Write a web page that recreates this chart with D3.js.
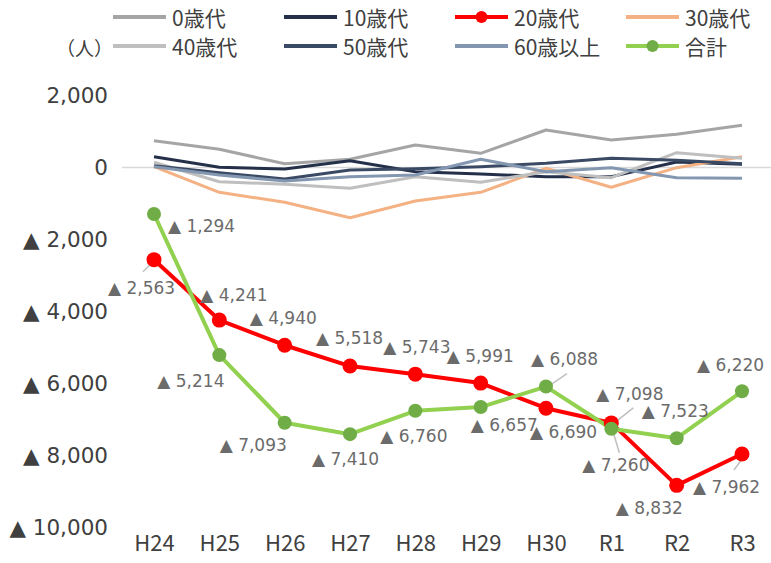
<!DOCTYPE html>
<html><head><meta charset="utf-8">
<script src="https://cdn.jsdelivr.net/npm/d3@7"></script>
<style>body{margin:0;background:#fff}</style>
</head><body><svg id="c" width="771" height="563"></svg>
<script>
// ---- data ----
const categories = ["H24","H25","H26","H27","H28","H29","H30","R1","R2","R3"];
const age0  = [742, 503, 103, 225, 622, 392, 1039, 761, 919, 1169];
const age10 = [297, 3, -44, 186, -119, -183, -257, -257, 150, 90];
const age20 = [-2563, -4241, -4940, -5518, -5743, -5991, -6690, -7098, -8832, -7962];
const age30 = [20, -692, -969, -1397, -933, -692, -25, -553, -8, 297];
const age40 = [142, -397, -470, -581, -258, -414, -119, -285, 409, 253];
const age50 = [48, -146, -322, -72, -36, 19, 114, 253, 200, 100];
const age60 = [20, -211, -378, -258, -211, 225, -119, -8, -285, -303];
const total = [-1294, -5214, -7093, -7410, -6760, -6657, -6088, -7260, -7523, -6220];
const seriesNames = ["0歳代","10歳代","20歳代","30歳代","40歳代","50歳代","60歳以上","合計"];
const yTickValues = [2000, 0, -2000, -4000, -6000, -8000, -10000];
const unitLabel = "（人）";

// ---- styling / layout ----
const colors = {
  "0歳代":"#A5A5A5","10歳代":"#243049","20歳代":"#FF0000","30歳代":"#F4B183",
  "40歳代":"#BFBFBF","50歳代":"#3A4A64","60歳以上":"#8497B0","合計":"#92D050"
};
const markerFill = {"20歳代":"#FF0000","合計":"#70AD47"};
const seriesData = [age0, age10, age20, age30, age40, age50, age60, total];

// label placements (relative to point): [dx, dy]
const lab20 = [[-46,28],[-19,-25],[-35,-27],[-34,-28],[-32,-27],[-34,-27],[-16,24],[-15,-29],[-61,23],[-49,33]];
const labTot = [[14,12],[-62,26],[-65,22],[-38,25],[-35,25],[-10,18],[-15,-28],[-29,36],[-35,-27],[-45,-26]];
// leader lines: [seriesIndex, pointIndex, x1,y1,x2,y2] relative to point
const leaders = [[2,0,-1,2,-11,12],[7,6,2,0,21,-13],[2,7,3,0,22,-15],[7,7,2,4,8,24],[2,9,0,5,-8,16]];

const svg = d3.select("#c");
const x = d3.scalePoint().domain(categories).range([154, 742]);
const y = d3.scaleLinear().domain([-10000, 2000]).range([527.4, 95.4]);

const fmt = v => v < 0 ? "▲ " + d3.format(",")(-v) : d3.format(",")(v);

// zero line
svg.append("line").attr("x1",122).attr("x2",771).attr("y1",y(0)).attr("y2",y(0))
  .attr("stroke","#D9D9D9").attr("stroke-width",1.5);

// y axis (labels only)
const yAxis = d3.axisLeft(y).tickValues(yTickValues).tickFormat(fmt).tickSize(0).tickPadding(0);
const yg = svg.append("g").attr("transform","translate(108,0)").call(yAxis);
yg.select(".domain").remove();
yg.selectAll("text").attr("font-family","DejaVu Sans, Verdana, sans-serif").attr("font-size",21.5).attr("fill","#404040");

// x axis
const xAxis = d3.axisBottom(x).tickSize(0).tickPadding(0);
const xg = svg.append("g").attr("transform","translate(0,535)").call(xAxis);
xg.select(".domain").remove();
xg.selectAll("text").attr("font-family","'Noto Sans CJK JP', sans-serif").attr("font-size",22).attr("fill","#404040");

// lines
const line = d3.line().x((d,i)=>x(categories[i])).y(d=>y(d));
seriesNames.forEach((name, si) => {
  const big = (name === "20歳代" || name === "合計");
  svg.append("path").datum(seriesData[si]).attr("d", line)
    .attr("fill","none").attr("stroke", colors[name])
    .attr("stroke-width", big ? 4 : 3).attr("stroke-linejoin","round");
});

// leader lines
leaders.forEach(([si, pi, x1, y1, x2, y2]) => {
  const px = x(categories[pi]), py = y(seriesData[si][pi]);
  svg.append("line").attr("x1",px+x1).attr("y1",py+y1).attr("x2",px+x2).attr("y2",py+y2)
    .attr("stroke","#BFBFBF").attr("stroke-width",1.5);
});

// markers
[[2,7.5],[7,7]].forEach(([si, r]) => {
  const name = seriesNames[si];
  svg.append("g").selectAll("circle").data(seriesData[si]).join("circle")
    .attr("cx",(d,i)=>x(categories[i])).attr("cy",d=>y(d)).attr("r",r)
    .attr("fill", markerFill[name]);
});

// data labels
function drawLabels(values, offs){
  svg.append("g").selectAll("text").data(values).join("text")
    .attr("x",(d,i)=>x(categories[i]) + offs[i][0])
    .attr("y",(d,i)=>y(d) + offs[i][1])
    .attr("dominant-baseline","central")
    .attr("font-family","DejaVu Sans, Verdana, sans-serif").attr("font-size",17)
    .attr("fill","#6B6B6B").text(d=>fmt(d));
}
drawLabels(age20, lab20);
drawLabels(total, labTot);

// legend
const legCols = [113, 284, 455, 626], legRows = [17, 46];
seriesNames.forEach((name, i) => {
  const lx = legCols[i % 4], ly = legRows[Math.floor(i / 4)];
  const g = svg.append("g");
  g.append("line").attr("x1",lx).attr("x2",lx+53).attr("y1",ly).attr("y2",ly)
    .attr("stroke",colors[name]).attr("stroke-width",4);
  if (markerFill[name]) g.append("circle").attr("cx",lx+26.5).attr("cy",ly).attr("r",6).attr("fill",markerFill[name]);
  g.append("text").attr("x",lx+59).attr("y",ly).attr("dominant-baseline","central")
    .attr("font-family","'Noto Sans CJK JP', sans-serif").attr("font-size",21)
    .attr("fill","#404040").text(name);
});
svg.append("text").attr("x",56).attr("y",47).attr("dominant-baseline","central")
  .attr("font-family","'Noto Sans CJK JP', sans-serif").attr("font-size",19)
  .attr("fill","#404040").text(unitLabel);
</script></body></html>
